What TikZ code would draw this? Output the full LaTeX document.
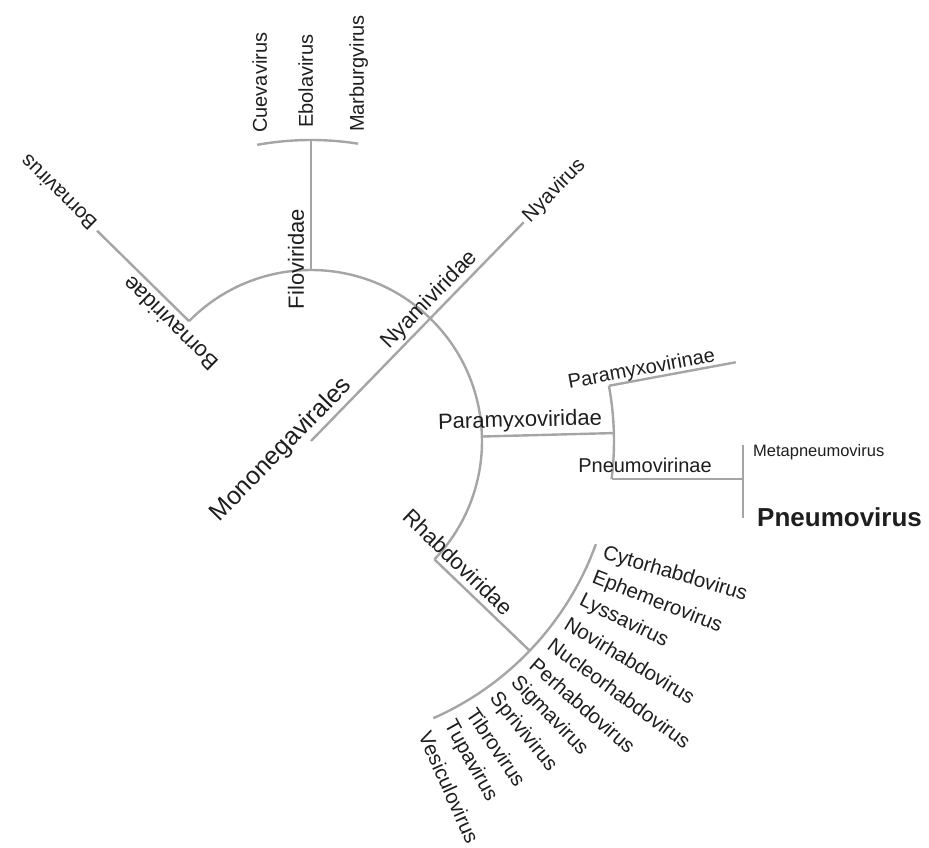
\documentclass[tikz,border=0pt]{standalone}
\usepackage{fontspec}
\setmainfont{Liberation Sans}
\usepackage{tikz}
\usetikzlibrary{calc}
\definecolor{branch}{RGB}{165,165,165}
\definecolor{ink}{RGB}{30,30,30}

\begin{document}
\begin{tikzpicture}[x=1pt, y=1pt, every node/.style={text=ink, inner sep=0pt},
  br/.style={draw=branch, line width=2.4pt},
  fam/.style={font=\fontsize{22}{26}\selectfont, anchor=base},
  sub/.style={font=\fontsize{20}{24}\selectfont, anchor=base},
  genus/.style={font=\fontsize{20.5}{24}\selectfont, anchor=west},
  filogenus/.style={font=\fontsize{20}{24}\selectfont, anchor=base west, rotate=90}]
  \useasboundingbox (-311,-407) rectangle (618,441);
  \coordinate (root) at (0,0);
  \coordinate (borna) at (135.5:171);
  \coordinate (filo) at (90:171);
  \coordinate (nyami) at (45.8:171);
  \coordinate (paramyxo) at (1.5:171);
  \coordinate (rhabdo) at (-43.8:171);
  \coordinate (bornaend) at (135.5:300);
  \coordinate (filoend) at (90:301);
  \coordinate (nyaend) at (45.8:305);
  \coordinate (paramyxoend) at (1.5:303);
  \coordinate (rhabdoend) at (-43.8:303);
  \coordinate (filoleft) at (100.3:301);
  \coordinate (rhabdotop) at (-19.9:303);
  \coordinate (paramyxovirinae) at (10.5:303);
  \coordinate (paramyxovirinaeend) at (10.5:432);
  \coordinate (pneumovirinae) at (300.6,-38);
  \coordinate (pneumovirinaeend) at (432,-38);
  \coordinate (metatop) at (432,-4);
  \coordinate (pneumobottom) at (432,-77);
  \draw[br] (borna) arc[start angle=135.5, end angle=-43.8, radius=171];
  \draw[br] (root) -- (nyaend);
  \draw[br] (borna) -- (bornaend);
  \draw[br] (filo) -- (filoend);
  \draw[br] (paramyxo) -- (paramyxoend);
  \draw[br] (rhabdo) -- (rhabdoend);
  \draw[br] (filoleft) arc[start angle=100.3, end angle=81, radius=301];
  \draw[br] (paramyxovirinae) arc[start angle=10.5, end angle=-7.2, radius=303];
  \draw[br] (rhabdotop) arc[start angle=-19.9, end angle=-66.2, radius=303];
  \draw[br] (paramyxovirinae) -- (paramyxovirinaeend);
  \draw[br] (pneumovirinae) -- (pneumovirinaeend);
  \draw[br] (metatop) -- (pneumobottom);
  \node[font=\fontsize{25}{30}\selectfont, anchor=base, rotate=45.8] (mononegavirales) at ($(225.8:27)+(135.8:8.5)$) {Mononegavirales};
  \node[fam, rotate=135.5] (bornaviridae) at ($(135.5:183)+(225.5:7)$) {Bornaviridae};
  \node[fam, rotate=90] (filoviridae) at ($(90:182)+(180:7)$) {Filoviridae};
  \node[fam, rotate=45.8] (nyamiviridae) at ($(45.8:184)+(135.8:7.5)$) {Nyamiviridae};
  \node[fam, rotate=1.5] (paramyxoviridae) at ($(1.5:209.5)+(91.5:8.5)$) {Paramyxoviridae};
  \node[fam, rotate=-43.8] (rhabdoviridae) at ($(-43.8:190)+(46.2:6.5)$) {Rhabdoviridae};
  \node[sub, rotate=10.5] (paramyxovirinaelabel) at ($(10.5:338)+(100.5:4.5)$) {Paramyxovirinae};
  \node[sub] (pneumovirinaelabel) at (334,-32) {Pneumovirinae};
  \node[font=\fontsize{16.5}{20}\selectfont, anchor=base west] (metapneumovirus) at (442,-16) {Metapneumovirus};
  \node[font=\bfseries\fontsize{26}{30}\selectfont, anchor=base west] (pneumovirus) at (446,-86) {Pneumovirus};
  \node[genus, rotate=135.5] (bornavirus) at (135.5:305) {Bornavirus};
  \node[genus, rotate=45.8] (nyavirus) at (45.8:309) {Nyavirus};
  \node[filogenus] (cuevavirus) at (-44,308) {Cuevavirus};
  \node[filogenus] (ebolavirus) at (2,313) {Ebolavirus};
  \node[filogenus] (marburgvirus) at (53,309) {Marburgvirus};
  \node[genus, rotate=-16.5] (cytorhabdovirus) at (-21:313) {Cytorhabdovirus};
  \node[genus, rotate=-21.5] (ephemerovirus) at (-25.8:313) {Ephemerovirus};
  \node[genus, rotate=-26.5] (lyssavirus) at (-30.5:313) {Lyssavirus};
  \node[genus, rotate=-31.3] (novirhabdovirus) at (-35.3:313) {Novirhabdovirus};
  \node[genus, rotate=-36.3] (nucleorhabdovirus) at (-40.1:313) {Nucleorhabdovirus};
  \node[genus, rotate=-41.1] (perhabdovirus) at (-44.9:313) {Perhabdovirus};
  \node[genus, rotate=-46] (sigmavirus) at (-49.6:313) {Sigmavirus};
  \node[genus, rotate=-51] (sprivivirus) at (-54.4:313) {Sprivivirus};
  \node[genus, rotate=-56] (tibrovirus) at (-59.2:313) {Tibrovirus};
  \node[genus, rotate=-61] (tupavirus) at (-63.9:313) {Tupavirus};
  \node[genus, rotate=-66] (vesiculovirus) at (-68.7:313) {Vesiculovirus};
\end{tikzpicture}
\end{document}
